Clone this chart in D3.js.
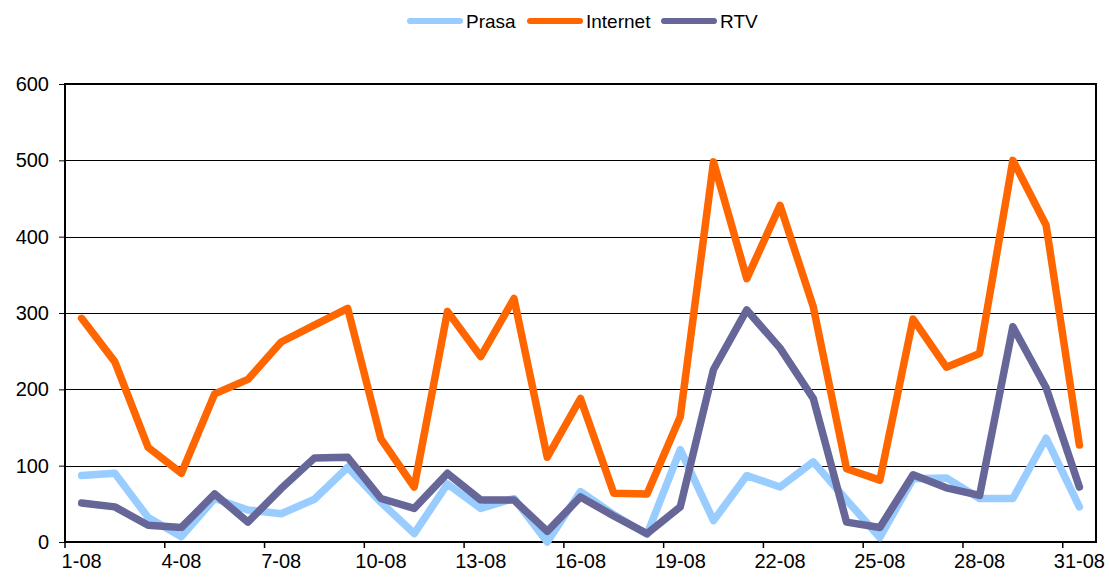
<!DOCTYPE html>
<html>
<head>
<meta charset="utf-8">
<script src="https://cdn.jsdelivr.net/npm/d3@7"></script>
<style>
  body { margin: 0; background: #fff; }
  svg text { font-family: "Liberation Sans", Arial, sans-serif; fill: #000; }
</style>
</head>
<body>
<div id="chart"></div>
<script>
// dni sierpnia
var days = d3.range(1, 32).map(function(d){ return d + '-08' })
var tickLabels = ['1-08','4-08','7-08','10-08','13-08','16-08','19-08','22-08','25-08','28-08','31-08']
var yTicks = [0, 100, 200, 300, 400, 500, 600]

var prasa = [87, 90, 32, 7, 57, 42, 37, 56, 98, 52, 11, 76, 44, 57, 0, 66, 36, 10, 121, 28, 87, 72, 105, 55, 6, 83, 84, 57, 57, 136, 46]
var internet = [293, 236, 124, 90, 194, 213, 262, 284, 306, 135, 72, 302, 243, 319, 111, 188, 64, 63, 164, 498, 345, 441, 308, 96, 81, 292, 229, 247, 500, 415, 127]
var rtv = [51, 46, 22, 19, 63, 26, 70, 110, 111, 57, 44, 90, 55, 55, 14, 59, 34, 11, 46, 226, 304, 254, 188, 26, 19, 88, 71, 61, 282, 202, 72]

var series = [
  {name: 'Prasa', values: prasa, color: '#99CCFF'},
  {name: 'Internet', values: internet, color: '#FF6600'},
  {name: 'RTV', values: rtv, color: '#666699'}
]

var W = 1109, H = 577
var margin = {left: 65, right: 13, top: 84, bottom: 35}
var width = W - margin.left - margin.right
var height = H - margin.top - margin.bottom

var svg = d3.select('#chart').append('svg').attr('width', W).attr('height', H)
var g = svg.append('g').attr('transform', 'translate(' + margin.left + ',' + margin.top + ')')

var x = d3.scaleBand().domain(days).range([0, width]).padding(0)
var y = d3.scaleLinear().domain([0, 600]).range([height, 0])

// linie siatki
g.selectAll('line.grid').data(yTicks).enter().append('line')
  .attr('x1', 0).attr('x2', width)
  .attr('y1', function(d){ return Math.round(y(d)) + 0.5 })
  .attr('y2', function(d){ return Math.round(y(d)) + 0.5 })
  .attr('stroke', '#000').attr('stroke-width', 1)

// osie
var yAxis = d3.axisLeft(y).tickValues(yTicks).tickSize(6).tickPadding(10)
var ya = g.append('g').call(yAxis)
ya.select('.domain').remove()
ya.selectAll('text').style('font-size', '20px')

var xAxis = d3.axisBottom(x).tickValues(tickLabels).tickSize(6).tickPadding(6)
var xa = g.append('g').attr('transform', 'translate(0,' + height + ')').call(xAxis)
xa.select('.domain').remove()
xa.selectAll('.tick line').attr('x1', -x.bandwidth() / 2).attr('x2', -x.bandwidth() / 2).attr('stroke-width', 1.5)
xa.selectAll('text').style('font-size', '20px')

g.append('rect').attr('width', width).attr('height', height)
  .attr('fill', 'none').attr('stroke', '#000').attr('stroke-width', 2)

// serie
var line = d3.line()
  .x(function(d, i){ return x(days[i]) + x.bandwidth() / 2 })
  .y(function(d){ return y(d) })

g.selectAll('path.series').data(series).enter().append('path')
  .attr('d', function(s){ return line(s.values) })
  .attr('fill', 'none')
  .attr('stroke', function(s){ return s.color })
  .attr('stroke-width', 7.5)
  .attr('stroke-linejoin', 'round')
  .attr('stroke-linecap', 'round')

// legenda
var legendX = [407, 527, 661]
var leg = svg.append('g').attr('transform', 'translate(0,21)')
var items = leg.selectAll('g').data(series).enter().append('g')
  .attr('transform', function(s, i){ return 'translate(' + legendX[i] + ',0)' })
items.append('line').attr('x1', 3).attr('x2', 53)
  .attr('stroke', function(s){ return s.color })
  .attr('stroke-width', 6).attr('stroke-linecap', 'round')
items.append('text').attr('x', 59).attr('dy', '0.36em')
  .style('font-size', '19px').text(function(s){ return s.name })
</script>
</body>
</html>
